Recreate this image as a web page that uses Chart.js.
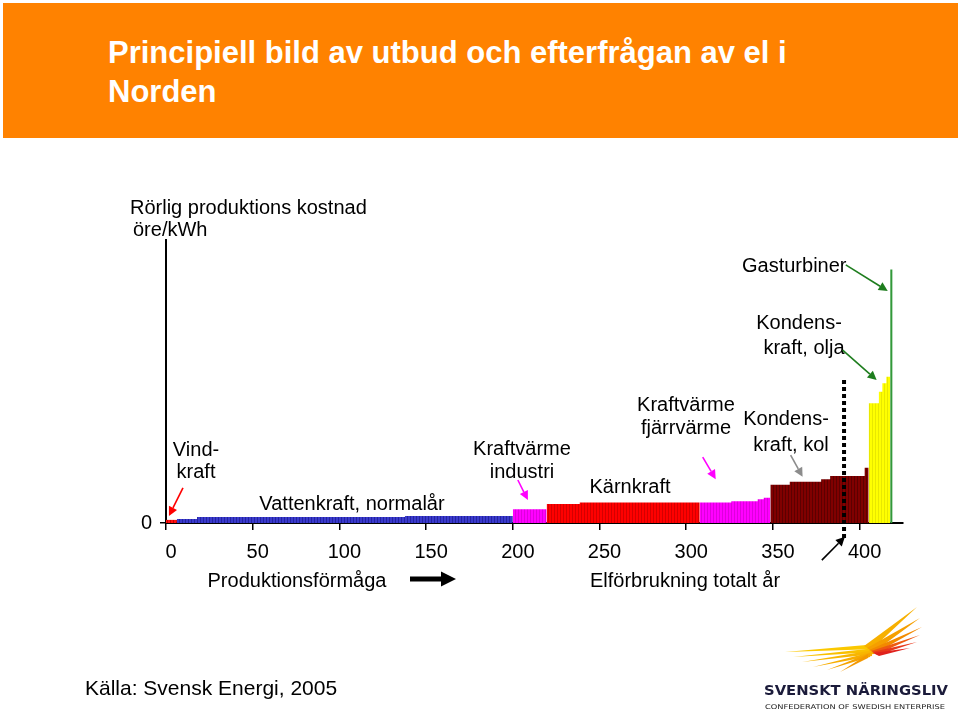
<!DOCTYPE html>
<html>
<head>
<meta charset="utf-8">
<script src="https://cdn.jsdelivr.net/npm/chart.js"></script>
<style>
html,body{margin:0;padding:0;background:#fff;width:960px;height:712px;overflow:hidden;font-family:"Liberation Sans",Arial,sans-serif;}
#wrap{position:relative;width:960px;height:712px;}
#chart{position:absolute;left:0;top:0;}
#header{position:absolute;left:3px;top:3px;width:955px;height:135px;background:#ff8200;}
#title{position:absolute;left:108px;top:33px;color:#fff;font-weight:bold;font-size:31px;line-height:39px;white-space:nowrap;}
#source{position:absolute;left:85px;top:677px;font-size:21px;line-height:21px;color:#000;white-space:nowrap;}
#logo{position:absolute;left:740px;top:590px;}
</style>
</head>
<body>
<div id="wrap">
  <canvas id="chart" width="960" height="712"></canvas>
  <div id="header"></div>
  <div id="title">Principiell bild av utbud och efterfrågan av el i<br>Norden</div>
  <div id="source">Källa: Svensk Energi, 2005</div>
  <svg id="logo" width="220" height="122" viewBox="0 0 220 122">
    <polygon points="45,62 138,54 138,59" fill="#fbc800"/>
    <polygon points="53,67 136,58 136,62" fill="#f9c000"/>
    <polygon points="62,72 134,60 134,64" fill="#f8b600"/>
    <polygon points="73,77 132,62 132,66" fill="#f7ad00"/>
    <polygon points="87,80 130,63 130,67" fill="#f5a300"/>
    <polygon points="100,82 128,64 128,68" fill="#f39800"/>
    <polygon points="177,17 124,56 131,60" fill="#f7b000"/>
    <polygon points="180,28 127,58 134,62" fill="#f59f00"/>
    <polygon points="182,37 129,60 136,63" fill="#f28a00"/>
    <polygon points="180,45 131,61 137,64" fill="#ee5a10"/>
    <polygon points="177,52 132,62 138,65" fill="#e8381a"/>
    <polygon points="170,58 133,63 139,66" fill="#e0221d"/>
    <text x="24" y="105" font-family="DejaVu Sans" font-weight="bold" font-size="14.5" fill="#1b1b3a" textLength="184" lengthAdjust="spacingAndGlyphs">SVENSKT NÄRINGSLIV</text>
    <text x="25" y="119" font-family="DejaVu Sans" font-size="6.5" fill="#222" textLength="180" lengthAdjust="spacingAndGlyphs">CONFEDERATION OF SWEDISH ENTERPRISE</text>
  </svg>
</div>
<script>
// ---- Data (x: TWh per year, y: variable production cost, relative units) ----
const xTickValues = [0, 50, 100, 150, 200, 250, 300, 350, 400];
const yTickValues = [0];

const windStart = [0];                          const windCost = [1.1];                        const windEnd = 6.3;
const hydroStart = [6.3, 17.9, 137.8];          const hydroCost = [1.4, 2.1, 2.5];             const hydroEnd = 200;
const chpIndStart = [200];                      const chpIndCost = [4.9];                      const chpIndEnd = 219.5;
const nuclearStart = [219.5, 238.6];            const nuclearCost = [6.7, 7.2];                const nuclearEnd = 307.8;
const chpDistStart = [307.8, 326, 341.2, 344.7];const chpDistCost = [7.2, 7.7, 8.4, 8.9];      const chpDistEnd = 348.5;
const coalStart = [348.5, 359.7, 377.8, 383, 402.9]; const coalCost = [13.5, 14.6, 15.5, 16.6, 19.5]; const coalEnd = 405.2;
const oilStart = [405.2, 411.1, 413.1, 415.4];  const oilCost = [42.3, 46.4, 49.4, 51.7];      const oilEnd = 417.6;
const gasStart = [417.6];                       const gasCost = [89.6];                        const gasEnd = 419.0;

const demandTWh = 391;
const demandLineY = [-5.3, 50.5];

// ---- Helpers ----
function stepPoints(starts, costs, end) {
  const pts = starts.map((s, i) => ({ x: s, y: costs[i] }));
  pts.push({ x: end, y: costs[costs.length - 1] });
  return pts;
}
const cv = document.getElementById('chart');
const c2d = cv.getContext('2d');
function stripes(main, line) {
  const p = document.createElement('canvas');
  p.width = 3; p.height = 1;
  const g = p.getContext('2d');
  g.fillStyle = main; g.fillRect(0, 0, 3, 1);
  g.fillStyle = line; g.fillRect(2, 0, 1, 1);
  return c2d.createPattern(p, 'repeat');
}
function block(label, starts, costs, end, fillStyle) {
  return {
    type: 'line', label, data: stepPoints(starts, costs, end),
    stepped: 'before', fill: 'origin', backgroundColor: fillStyle,
    borderColor: 'rgba(0,0,0,0)', borderWidth: 0, pointRadius: 0
  };
}

// ---- Annotation layout ----
const FONT = '20px "Liberation Sans", Arial, sans-serif';
const labelDefs = [
  { t: 'Rörlig produktions kostnad', x: 130, y: 207, a: 'left' },
  { t: 'öre/kWh', x: 133, y: 229, a: 'left' },
  { t: 'Gasturbiner', x: 742, y: 265, a: 'left' },
  { t: 'Kondens-', x: 799, y: 322 },
  { t: 'kraft, olja', x: 804, y: 347 },
  { t: 'Kraftvärme', x: 686, y: 404 },
  { t: 'fjärrvärme', x: 686, y: 427 },
  { t: 'Kondens-', x: 786, y: 418 },
  { t: 'kraft, kol', x: 791, y: 444 },
  { t: 'Kärnkraft', x: 630, y: 486 },
  { t: 'Kraftvärme', x: 522, y: 448 },
  { t: 'industri', x: 522, y: 471 },
  { t: 'Vattenkraft, normalår', x: 352, y: 503 },
  { t: 'Vind-', x: 196, y: 449 },
  { t: 'kraft', x: 196, y: 471 },
  { t: 'Produktionsförmåga', x: 297, y: 580 },
  { t: 'Elförbrukning totalt år', x: 685, y: 580 }
];
// arrows in data coordinates
const arrowDefs = [
  { x1: 9.8, y1: 12.4, x2: 1.7, y2: 2.5, c: '#ff0000' },
  { x1: 202.9, y1: 15.2, x2: 208.7, y2: 8.1, c: '#ff00ff' },
  { x1: 309.5, y1: 23.3, x2: 317, y2: 15.5, c: '#ff00ff' },
  { x1: 360.2, y1: 24, x2: 367.1, y2: 16.3, c: '#8c8c8c' },
  { x1: 390.2, y1: 61.1, x2: 409.8, y2: 50.5, c: '#1e7d1e' },
  { x1: 392, y1: 91.2, x2: 416.2, y2: 82, c: '#1e7d1e' },
  { x1: 378.2, y1: -13.1, x2: 391.5, y2: -4.9, c: '#000000' }
];

function drawArrow(ctx, x1, y1, x2, y2, color, lw, hl, hw) {
  const ang = Math.atan2(y2 - y1, x2 - x1);
  const bx = x2 - Math.cos(ang) * hl, by = y2 - Math.sin(ang) * hl;
  ctx.strokeStyle = color; ctx.fillStyle = color; ctx.lineWidth = lw; ctx.lineCap = 'butt';
  ctx.beginPath(); ctx.moveTo(x1, y1); ctx.lineTo(bx, by); ctx.stroke();
  ctx.beginPath();
  ctx.moveTo(x2, y2);
  ctx.lineTo(bx + Math.sin(ang) * hw, by - Math.cos(ang) * hw);
  ctx.lineTo(bx - Math.sin(ang) * hw, by + Math.cos(ang) * hw);
  ctx.closePath(); ctx.fill();
}

const annotPlugin = {
  id: 'annot',
  afterDraw(chart) {
    const { ctx } = chart;
    const xs = chart.scales.x, ys = chart.scales.y;
    ctx.save();
    ctx.font = FONT; ctx.fillStyle = '#000'; ctx.textBaseline = 'alphabetic';
    labelDefs.forEach(l => { ctx.textAlign = l.a || 'center'; ctx.fillText(l.t, l.x, l.y + 7); });
    arrowDefs.forEach(a => drawArrow(ctx,
      xs.getPixelForValue(a.x1), ys.getPixelForValue(a.y1),
      xs.getPixelForValue(a.x2), ys.getPixelForValue(a.y2), a.c, 1.6, 9, 4.5));
    // thick arrow after "Produktionsförmåga"
    drawArrow(ctx, 410, 579, 456, 579, '#000', 5, 15, 7.5);
    ctx.restore();
  }
};

new Chart(cv, {
  type: 'line',
  data: {
    datasets: [
      { type: 'line', label: 'Elförbrukning', data: [{ x: demandTWh, y: demandLineY[0] }, { x: demandTWh, y: demandLineY[1] }],
        borderColor: '#000', borderWidth: 4, borderDash: [4, 3], pointRadius: 0, fill: false, clip: false },
      block('Vindkraft', windStart, windCost, windEnd, stripes('#ff1010', '#cc0000')),
      block('Vattenkraft', hydroStart, hydroCost, hydroEnd, stripes('#3a3acc', '#2424a0')),
      block('Kraftvärme industri', chpIndStart, chpIndCost, chpIndEnd, stripes('#ff00ff', '#dd00dd')),
      block('Kärnkraft', nuclearStart, nuclearCost, nuclearEnd, stripes('#ff0000', '#d40000')),
      block('Kraftvärme fjärrvärme', chpDistStart, chpDistCost, chpDistEnd, stripes('#ff00ff', '#dd00dd')),
      block('Kondenskraft kol', coalStart, coalCost, coalEnd, stripes('#800000', '#5c0000')),
      block('Kondenskraft olja', oilStart, oilCost, oilEnd, stripes('#ffff00', '#e8e800')),
      block('Gasturbiner', gasStart, gasCost, gasEnd, '#33993a')
    ]
  },
  options: {
    responsive: false,
    animation: false,
    events: [],
    layout: { padding: { left: 100, right: 57, top: 240, bottom: 139 } },
    plugins: { legend: { display: false }, tooltip: { enabled: false }, title: { display: false } },
    scales: {
      x: {
        type: 'linear', min: 0, max: 425, z: 1,
        afterBuildTicks: s => { s.ticks = xTickValues.map(v => ({ value: v })); },
        afterFit: s => { s.height = 50; },
        ticks: { color: '#000', font: { size: 20, family: '"Liberation Sans", Arial, sans-serif' }, padding: 10, labelOffset: 5, maxRotation: 0, autoSkip: false },
        grid: { display: true, drawOnChartArea: false, drawTicks: true, tickLength: 7, color: '#000', lineWidth: 1.5 },
        border: { display: true, color: '#000', width: 2 }
      },
      y: {
        type: 'linear', min: 0, max: 100, z: 1,
        afterBuildTicks: s => { s.ticks = yTickValues.map(v => ({ value: v })); },
        afterFit: s => { s.width = 66; },
        ticks: { color: '#000', font: { size: 20, family: '"Liberation Sans", Arial, sans-serif' }, padding: 8 },
        grid: { display: true, drawOnChartArea: false, drawTicks: true, tickLength: 6, color: '#000', lineWidth: 1.5 },
        border: { display: true, color: '#000', width: 2 }
      }
    }
  },
  plugins: [annotPlugin]
});
</script>
</body>
</html>
